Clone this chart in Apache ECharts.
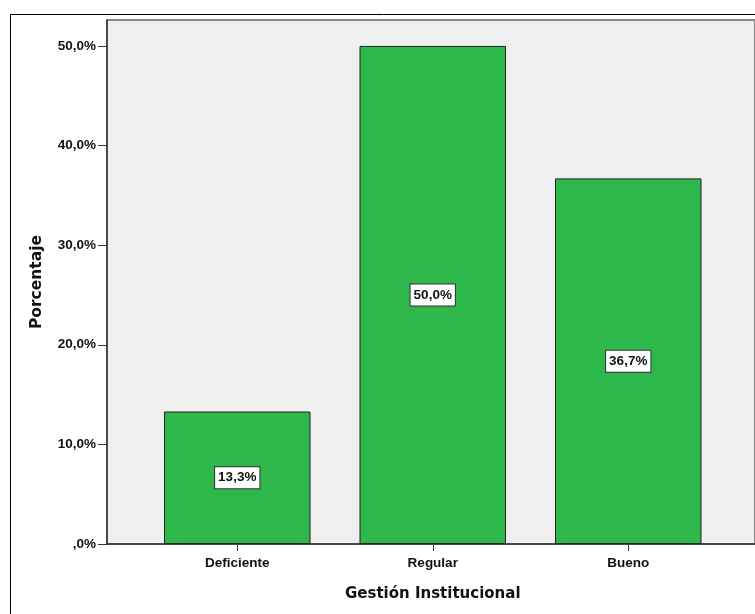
<!DOCTYPE html>
<html>
<head>
<meta charset="utf-8">
<script src="https://cdn.jsdelivr.net/npm/echarts@6/dist/echarts.min.js"></script>
<style>html,body{margin:0;padding:0;background:#fff;}#c{width:755px;height:614px;}</style>
</head>
<body>
<div id="c"></div>
<script>
var categories = ['Deficiente', 'Regular', 'Bueno'];
var values = [13.3, 50.0, 36.7];
var yTicks = [0, 10, 20, 30, 40, 50];
var xTitle = 'Gestión Institucional';
var yTitle = 'Porcentaje';

function fmt(v) {
  if (v === 0) return ',0%';
  return v.toFixed(1).replace('.', ',') + '%';
}

var chart = echarts.init(document.getElementById('c'), null, {renderer: 'canvas'});
chart.setOption({
  animation: false,
  backgroundColor: '#fff',
  graphic: [{
    type: 'rect', z: 100,
    shape: {x: 10.5, y: 14.5, width: 800, height: 700},
    style: {fill: 'none', stroke: '#000', lineWidth: 1}
  }],
  grid: [
    {left: 107, top: 20, right: -10, bottom: 70, show: true, backgroundColor: '#efefef', borderColor: '#888', borderWidth: 2},
    {left: 139.5, top: 20, width: 586.5, bottom: 70}
  ],
  xAxis: [
    {type: 'value', gridIndex: 0, min: 0, max: 1, axisLine: {show: true, lineStyle: {color: '#333', width: 1.5}}, axisTick: {show: false}, axisLabel: {show: false}, splitLine: {show: false}},
    {type: 'category', gridIndex: 1, data: categories,
     axisLine: {show: false}, axisTick: {show: true, alignWithLabel: true, length: 7, lineStyle: {color: '#333'}},
     axisLabel: {color: '#111', fontWeight: 'bold', fontSize: 13.5, fontFamily: 'Liberation Sans', margin: 12},
     name: xTitle, nameLocation: 'middle', nameGap: 43,
     nameTextStyle: {color: '#111', fontWeight: 'bold', fontSize: 15, fontFamily: 'DejaVu Sans'}}
  ],
  yAxis: [
    {type: 'value', gridIndex: 0, min: 0, max: 1, axisLine: {show: true, lineStyle: {color: '#333', width: 1.5}}, axisTick: {show: false}, axisLabel: {show: false}, splitLine: {show: false}},
    {type: 'value', gridIndex: 1, min: 0, max: 52.6, interval: 10, offset: 32.5,
     axisLine: {show: false}, axisTick: {show: true, length: 9, customValues: yTicks, lineStyle: {color: '#333'}},
     splitLine: {show: false},
     axisLabel: {color: '#111', fontWeight: 'bold', fontSize: 13.5, fontFamily: 'Liberation Sans', margin: 11,
       customValues: yTicks, formatter: function (v) { return fmt(v); }},
     name: yTitle, nameLocation: 'middle', nameGap: 62, nameRotate: 90,
     nameTextStyle: {color: '#111', fontWeight: 'bold', fontSize: 15.5, fontFamily: 'DejaVu Sans'}}
  ],
  series: [{
    type: 'bar', xAxisIndex: 1, yAxisIndex: 1, data: values, barWidth: 146.5,
    itemStyle: {color: '#2eb84b', borderColor: '#222', borderWidth: 1},
    label: {show: true, position: 'inside', formatter: function (p) { return fmt(p.value); },
      backgroundColor: '#fff', borderColor: '#333', borderWidth: 1, padding: [4, 3, 3, 3],
      color: '#111', fontWeight: 'bold', fontSize: 13.5, fontFamily: 'Liberation Sans'}
  }]
});
</script>
</body>
</html>
